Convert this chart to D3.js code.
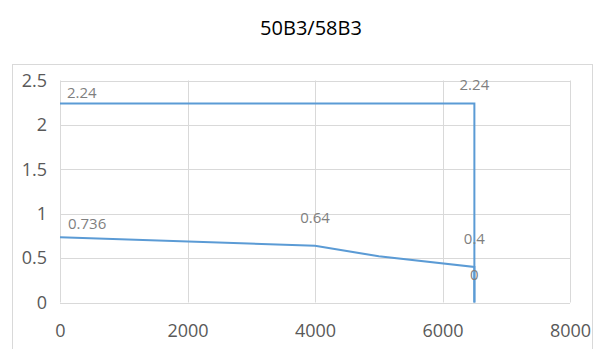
<!DOCTYPE html>
<html><head><meta charset="utf-8">
<script src="https://cdn.jsdelivr.net/npm/d3@7"></script>
<style>body{margin:0;background:#fff}svg{display:block}text{font-family:"Open Sans","Noto Sans",sans-serif}</style>
</head><body>
<script>
const title = "50B3/58B3";
const xTicks = [0, 2000, 4000, 6000, 8000];
const yTicks = [0, 0.5, 1, 1.5, 2, 2.5];
const series1X = [0, 6500, 6500];
const series1Y = [2.24, 2.24, 0];
const series1Labels = ["2.24", "2.24", null];
const series2X = [0, 4000, 5000, 6500, 6500];
const series2Y = [0.736, 0.64, 0.52, 0.4, 0];
const series2Labels = ["0.736", "0.64", null, "0.4", "0"];

const W = 595, H = 349;
const FONT = "'Open Sans','Noto Sans',sans-serif";
const svg = d3.select("body").append("svg").attr("width", W).attr("height", H);
svg.append("rect").attr("x", 12.5).attr("y", 64.5).attr("width", 580).attr("height", 300)
  .attr("fill", "none").attr("stroke", "#d9d9d9");

const x = d3.scaleLinear().domain([0, 8000]).range([60, 570]);
const y = d3.scaleLinear().domain([0, 2.5]).range([302.5, 80.5]);

svg.append("text").attr("x", 311).attr("y", 35).attr("text-anchor", "middle")
  .attr("font-size", 20).attr("fill", "#000").text(title);

const g = svg.append("g");
g.selectAll(".gy").data(yTicks).join("line")
  .attr("x1", x(0)).attr("x2", x(8000)).attr("y1", d => Math.round(y(d)) + 0.5).attr("y2", d => Math.round(y(d)) + 0.5)
  .attr("stroke", "#d9d9d9");
g.selectAll(".gx").data(xTicks).join("line")
  .attr("y1", y(0)).attr("y2", y(2.5)).attr("x1", d => Math.round(x(d)) + 0.5).attr("x2", d => Math.round(x(d)) + 0.5)
  .attr("stroke", "#d9d9d9");

const yAxis = d3.axisLeft(y).tickValues(yTicks).tickSize(0).tickPadding(13).tickFormat(d3.format("~g"));
svg.append("g").attr("transform", "translate(60,0)").call(yAxis)
  .call(a => a.select(".domain").remove())
  .selectAll("text").attr("font-size", 18).attr("fill", "#595959").attr("font-family", FONT);
const xAxis = d3.axisBottom(x).tickValues(xTicks).tickSize(0).tickPadding(22).tickFormat(d3.format("d"));
svg.append("g").attr("transform", "translate(0,302.5)").call(xAxis)
  .call(a => a.select(".domain").remove())
  .selectAll("text").attr("font-size", 18).attr("fill", "#595959").attr("font-family", FONT);

const line = d3.line().x(d => x(d[0])).y(d => y(d[1]));
const s1 = series1X.map((v, i) => [v, series1Y[i], series1Labels[i]]);
const s2 = series2X.map((v, i) => [v, series2Y[i], series2Labels[i]]);
[s1, s2].forEach(s => svg.append("path").datum(s).attr("d", line)
  .attr("fill", "none").attr("stroke", "#5b9bd5").attr("stroke-width", 2));

function label(px, py, txt, anchor) {
  svg.append("text").attr("x", px).attr("y", py).attr("text-anchor", anchor)
    .attr("dominant-baseline", "central").attr("font-size", 15).attr("fill", "#7f7f7f").text(txt);
}
label(x(s1[0][0]) + 7, y(s1[0][1]) - 12, s1[0][2], "start");
label(x(s1[1][0]), y(s1[1][1]) - 20, s1[1][2], "middle");
s2.forEach(d => {
  if (!d[2]) return;
  if (d[0] === 0) label(x(d[0]) + 8, y(d[1]) - 14, d[2], "start");
  else label(x(d[0]), y(d[1]) - 29, d[2], "middle");
});
</script>
</body></html>
